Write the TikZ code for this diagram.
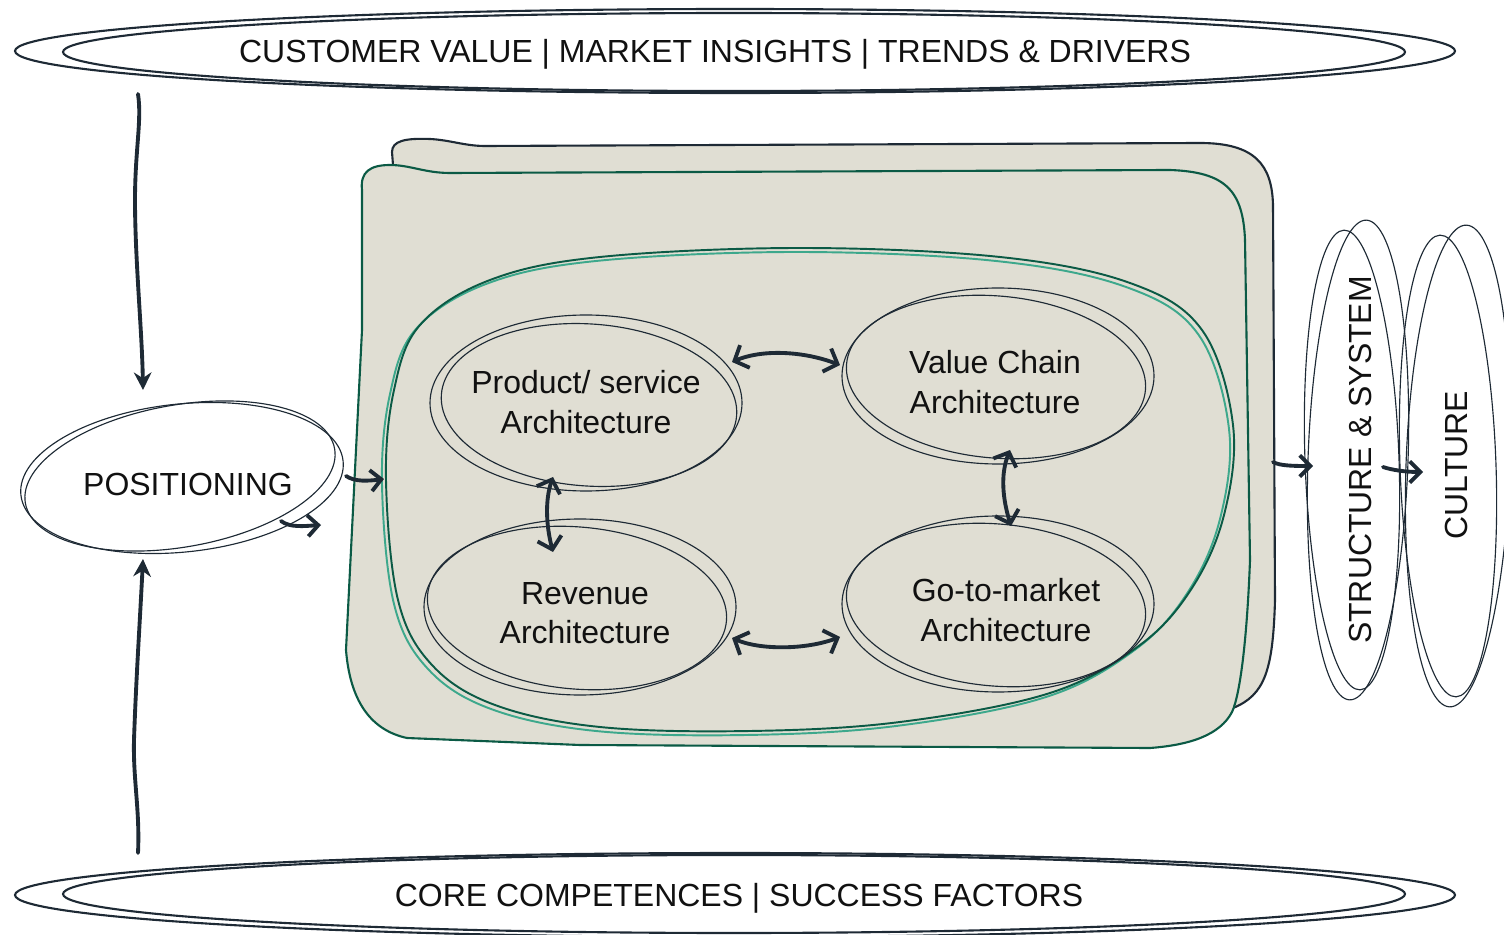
\documentclass[tikz,border=0pt]{standalone}
\usepackage{fontspec}
\setmainfont{Liberation Sans}
\usetikzlibrary{arrows.meta}
\definecolor{ink}{HTML}{1E2A35}
\definecolor{sheetfill}{HTML}{E0DED3}
\definecolor{dgreen}{HTML}{0B5A45}
\definecolor{tealc}{HTML}{3DA88C}
\definecolor{txt}{HTML}{111111}
\tikzset{
  lbl/.style={text=txt, font=\fontsize{18.2}{22.5}\selectfont, align=center, inner sep=0pt},
  band/.style={draw=ink, line width=1.2pt},
  thin/.style={draw=ink, line width=0.65pt},
  vflow/.style={draw=ink, line width=2.2pt, line cap=round, -{Stealth[length=10pt,width=10pt]}},
  dbl/.style={draw=ink, line width=2.2pt, line cap=round, {Straight Barb[length=6.5pt,width=14pt,line width=2.2pt]}-{Straight Barb[length=6.5pt,width=14pt,line width=2.2pt]}},
  sflow/.style={draw=ink, line width=2.2pt, line cap=round, -{Straight Barb[length=6pt,width=12pt,line width=2.2pt]}}
}
\begin{document}
\begin{tikzpicture}[x=0.02cm,y=-0.02cm]
\useasboundingbox (0,0) rectangle (1504,935);
% top band
\draw[band] (735,51) ellipse [x radius=720, y radius=42];
\draw[band] (734,52) ellipse [x radius=671, y radius=39];
\node[lbl] (top) at (715,54) {CUSTOMER VALUE | MARKET INSIGHTS | TRENDS \& DRIVERS};
% bottom band
\draw[band] (735,895) ellipse [x radius=720, y radius=42];
\draw[band] (734,894) ellipse [x radius=671, y radius=39];
\node[lbl] (bot) at (739,898) {CORE COMPETENCES | SUCCESS FACTORS};
% positioning
\draw[thin] [rotate around={6:(182,478)}] (182,478) ellipse [x radius=162, y radius=74];
\draw[thin] [rotate around={10:(180,476)}] (180,476) ellipse [x radius=157, y radius=71];
\node[lbl] (pos) at (188,484) {POSITIONING};
% back sheet
\draw[draw=ink, line width=1.2pt, fill=sheetfill]
  (393,165) -- (392,152) .. controls (392,141) and (405,138) .. (430,139)
  .. controls (450,140) and (465,146) .. (485,146) -- (1200,143)
  .. controls (1255,143) and (1272,165) .. (1273,205) -- (1275,600)
  .. controls (1273,670) and (1265,695) .. (1233,708) -- (1200,712) -- (420,712) -- cycle;
% front sheet
\draw[draw=dgreen, line width=1.2pt, fill=sheetfill]
  (362,190) .. controls (360,172) and (370,165) .. (390,165)
  .. controls (410,165) and (425,173) .. (450,173) -- (1170,170)
  .. controls (1225,172) and (1243,190) .. (1245,240) -- (1250,560)
  .. controls (1247,640) and (1240,695) .. (1232,712)
  .. controls (1220,735) and (1190,745) .. (1150,748) -- (580,745) -- (407,738)
  .. controls (370,730) and (350,700) .. (346,650) -- (362,330) -- cycle;
% inner region (double line)
\def\region{plot[smooth cycle, tension=0.6] coordinates {(386,480) (394,390) (420,325) (490,280) (600,257) (800,248) (1000,257) (1130,283) (1202,330) (1233,425) (1224,515) (1192,588) (1140,645) (1050,693) (900,722) (750,731) (600,727) (495,705) (432,665) (398,600)}}
\draw[tealc, line width=1.1pt, xshift=-0.08cm, yshift=-0.08cm] \region;
\draw[dgreen, line width=1.1pt] \region;
% four ellipses
\draw[thin] (586,403) ellipse [x radius=156, y radius=88];
\draw[thin] [rotate around={-4:(589,405)}] (589,405) ellipse [x radius=148, y radius=81];
\node[lbl] (ps) at (586,402) {Product/ service\\Architecture};
\draw[thin] (998,376) ellipse [x radius=156, y radius=88];
\draw[thin] [rotate around={-5:(996,377)}] (996,377) ellipse [x radius=150, y radius=81];
\node[lbl] (vc) at (995,382) {Value Chain\\Architecture};
\draw[thin] (580,607) ellipse [x radius=156, y radius=88];
\draw[thin] [rotate around={-5:(577,608)}] (577,608) ellipse [x radius=150, y radius=81];
\node[lbl] (rev) at (585,613) {Revenue\\Architecture};
\draw[thin] (998,604) ellipse [x radius=156, y radius=88];
\draw[thin] [rotate around={-5:(996,605)}] (996,605) ellipse [x radius=150, y radius=81];
\node[lbl] (gtm) at (1006,610) {Go-to-market\\Architecture};
% structure & culture
\draw[thin] [rotate around={-2:(1358,460)}] (1358,460) ellipse [x radius=50, y radius=240];
\draw[thin] [rotate around={2:(1352,460)}] (1352,460) ellipse [x radius=47, y radius=230];
\node[lbl, rotate=90] (sys) at (1360,460) {STRUCTURE \& SYSTEM};
\draw[thin] [rotate around={-2:(1458,466)}] (1458,466) ellipse [x radius=52, y radius=241];
\draw[thin] [rotate around={2:(1448,466)}] (1448,466) ellipse [x radius=48, y radius=231];
\node[lbl, rotate=90] (cul) at (1456,465) {CULTURE};
% connector end points
\coordinate (topS) at (138,94);
\coordinate (posN) at (143,390);
\coordinate (botS) at (138,853);
\coordinate (posS) at (143,559);
\coordinate (psE) at (732,362);
\coordinate (vcW) at (840,365);
\coordinate (revE) at (732,638);
\coordinate (gtmW) at (840,637);
\coordinate (psS) at (553,477);
\coordinate (revN) at (553,552);
\coordinate (vcS) at (1010,450);
\coordinate (gtmN) at (1011,526);
\coordinate (posE1) at (346,476);
\coordinate (panW) at (384,479);
\coordinate (posE2) at (281,521);
\coordinate (posX) at (321,525);
\coordinate (panE) at (1273,462);
\coordinate (sysW) at (1313,466);
\coordinate (sysE) at (1383,467);
\coordinate (culW) at (1423,472);
% connectors
\draw[vflow] (topS) .. controls (142,120) and (135,150) .. (135,200) .. controls (135,260) and (142,330) .. (posN);
\draw[vflow] (botS) .. controls (140,810) and (133,780) .. (134,740) .. controls (136,680) and (140,620) .. (posS);
\draw[dbl] (psE) .. controls (760,350) and (800,350) .. (vcW);
\draw[dbl] (revE) .. controls (760,650) and (805,650) .. (gtmW);
\draw[dbl] (psS) .. controls (545,500) and (546,525) .. (revN);
\draw[dbl] (vcS) .. controls (1000,475) and (1003,500) .. (gtmN);
\draw[sflow] (posE1) .. controls (355,482) and (368,481) .. (panW);
\draw[sflow] (posE2) .. controls (290,528) and (305,526) .. (posX);
\draw[sflow] (panE) .. controls (1280,466) and (1295,466) .. (sysW);
\draw[sflow] (sysE) .. controls (1392,470) and (1405,472) .. (culW);
\end{tikzpicture}
\end{document}
